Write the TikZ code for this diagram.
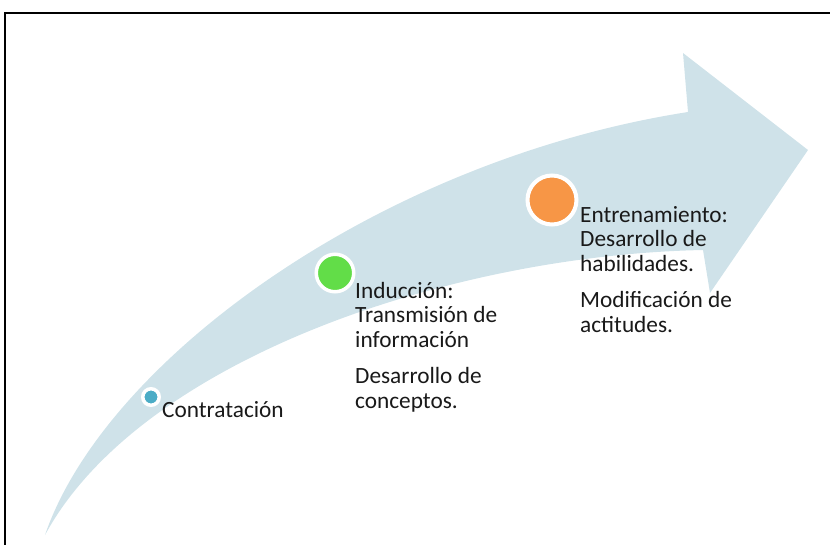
\documentclass[tikz,border=0pt]{standalone}
\usepackage{fontspec}
\setmainfont{Carlito}
\definecolor{bandblue}{RGB}{207,226,233}
\definecolor{dotblue}{RGB}{75,172,198}
\definecolor{dotgreen}{RGB}{98,221,72}
\definecolor{dotorange}{RGB}{247,150,70}
\definecolor{txt}{RGB}{25,25,25}
\tikzset{
  dotmark/.style={circle, draw=white, inner sep=0pt},
  label text/.style={anchor=base west, inner sep=0pt, text=txt,
    font=\fontsize{23.3}{24.5}\selectfont},
}
\begin{document}
\begin{tikzpicture}[x=1pt,y=-1pt]
\useasboundingbox (0,0) rectangle (830,544);
% frame
\draw[line width=2pt] (5,546) -- (5,13) -- (832,13);
% curved arrow
\fill[bandblue] (45,535) .. controls (105,360) and (380,160) .. (688,112)
  -- (683,53) -- (808,150) -- (710,293) -- (703,250)
  .. controls (450,255) and (140,360) .. (45,535) -- cycle;
% markers
\node[dotmark, fill=dotblue, line width=3.5pt, minimum size=16.5pt] (c1) at (151,397) {};
\node[dotmark, fill=dotgreen, line width=3.5pt, minimum size=37.5pt] (c2) at (335,273) {};
\node[dotmark, fill=dotorange, line width=4pt, minimum size=49pt] (c3) at (552,200) {};
% texts
\node[label text] (t1) at (162,417) {Contratación};
\node[label text] (t2) at (355,298) {\begin{tabular}[t]{@{}l@{}}Inducción:\\Transmisión de\\información\\[12pt]Desarrollo de\\conceptos.\end{tabular}};
\node[label text] (t3) at (580,222) {\begin{tabular}[t]{@{}l@{}}Entrenamiento:\\Desarrollo de\\habilidades.\\[12pt]Modificación de\\actitudes.\end{tabular}};
\end{tikzpicture}
\end{document}
